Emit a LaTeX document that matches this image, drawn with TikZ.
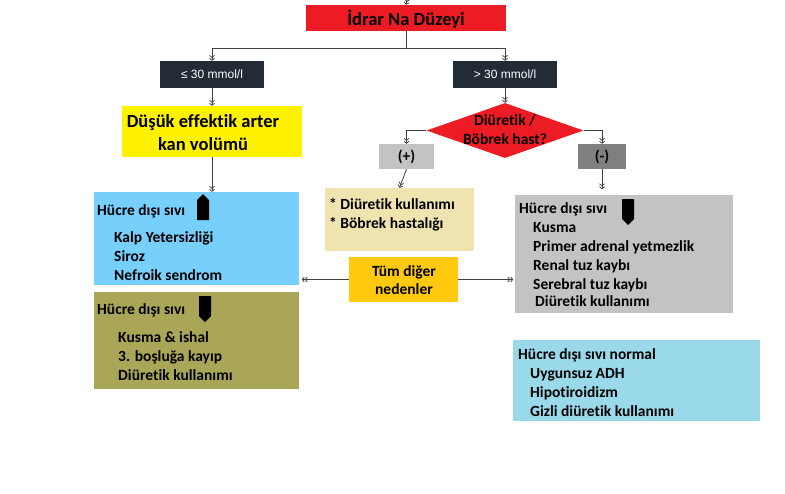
\documentclass[tikz,border=0pt]{standalone}
\usepackage{fontspec}
\setmainfont{Carlito}[Ligatures=NoCommon]
\newfontfamily\arialfont{Liberation Sans}
\usetikzlibrary{shapes.geometric,shapes.arrows,arrows.meta}

\begin{document}
\begin{tikzpicture}[x=1pt,y=-1pt,
    box/.style={inner sep=0pt},
    darkbox/.style={box,fill=slate,minimum width=104pt,minimum height=27pt,text=white,font=\arialfont\fontsize{12}{14}\selectfont},
    conn/.style={draw=linegray,line width=0.8pt,-{Straight Barb[length=2pt,width=5pt]Straight Barb[length=2pt,width=5pt]}},
    head/.style={anchor=base west,inner sep=0pt,font=\bfseries\fontsize{15.5}{18}\selectfont},
    items/.style={anchor=base west,align=left,inner sep=0pt,font=\bfseries\fontsize{15.5}{18.8}\selectfont},
    title/.style={align=center,inner sep=0pt,font=\bfseries\fontsize{18.5}{23}\selectfont},
    blockarrow/.style={single arrow,fill=black,inner sep=0pt,minimum width=12pt,minimum height=26pt,single arrow head extend=0pt}]
    % Define colors
    \definecolor{slate}{RGB}{35,43,54}
    \definecolor{linegray}{RGB}{64,64,64}
    \definecolor{redbox}{RGB}{237,28,36}
    \definecolor{yellowbox}{RGB}{255,242,0}
    \definecolor{bluebox}{RGB}{119,207,251}
    \definecolor{olivebox}{RGB}{169,167,87}
    \definecolor{tanbox}{RGB}{239,228,176}
    \definecolor{lightgraybox}{RGB}{195,195,195}
    \definecolor{darkgraybox}{RGB}{127,127,127}
    \definecolor{orangebox}{RGB}{255,201,14}
    \definecolor{cyanbox}{RGB}{153,217,234}

    \useasboundingbox (0,0) rectangle (785,493);

    % Top of the chart
    \coordinate (start) at (407,0);
    \node[box,fill=redbox,minimum width=200pt,minimum height=26pt] (idrar) at (406,18) {};
    \node[title] (idrartext) at (406,19) {İdrar Na Düzeyi};

    % Cut-off values
    \node[darkbox] (low) at (212,74.5) {≤ 30 mmol/l};
    \node[darkbox] (high) at (505,74.5) {> 30 mmol/l};

    % Left branch
    \node[box,fill=yellowbox,minimum width=180pt,minimum height=51pt] (effective) at (212,131.5) {};
    \node[title] (effectivetext) at (203,133) {Düşük effektik arter\\kan volümü};

    \node[box,fill=bluebox,minimum width=205pt,minimum height=93pt] (high ecf) at (196.5,238.5) {};
    \node[head] (high ecf head) at (97,215) {Hücre dışı sıvı};
    \node[blockarrow,rotate=90] (uparrow) at (203,210) {};
    \node[items] (high ecf list) at (114,280) {Kalp Yetersizliği\\Siroz\\Nefroik sendrom};

    \node[box,fill=olivebox,minimum width=205pt,minimum height=97pt] (low ecf) at (196.5,340.5) {};
    \node[head] (low ecf head) at (97,314) {Hücre dışı sıvı};
    \node[blockarrow,rotate=-90] (downarrow) at (205,306) {};
    \node[items] (low ecf list) at (118,380) {Kusma \& ishal\\3. boşluğa kayıp\\Diüretik kullanımı};

    % Right branch
    \node[diamond,fill=redbox,inner sep=0pt,minimum width=157pt,minimum height=55pt] (question) at (505,130.5) {};
    \node[align=center,inner sep=0pt,font=\bfseries\fontsize{15.5}{19}\selectfont] (questiontext) at (505,130) {Diüretik /\\Böbrek hast?};

    \node[box,fill=lightgraybox,minimum width=55pt,minimum height=25pt,font=\bfseries\fontsize{15.5}{18}\selectfont] (plus) at (406.5,156.5) {(+)};
    \node[box,fill=darkgraybox,minimum width=48pt,minimum height=25pt,font=\bfseries\fontsize{15.5}{18}\selectfont] (minus) at (602,156.5) {(-)};

    \node[box,fill=tanbox,minimum width=149pt,minimum height=63pt] (renal) at (399.5,219.5) {};
    \node[items] (renal list) at (329,228) {* Diüretik kullanımı\\* Böbrek hastalığı};

    \node[box,fill=lightgraybox,minimum width=218pt,minimum height=118pt] (gray ecf) at (624,254) {};
    \node[head] (gray ecf head) at (519,213) {Hücre dışı sıvı};
    \node[blockarrow,rotate=-90] (downarrow2) at (628,209) {};
    \node[items] (gray ecf list) at (533,306) {Kusma\\Primer adrenal yetmezlik\\Renal tuz kaybı\\Serebral tuz kaybı\\[-2pt]\hspace{2pt}Diüretik kullanımı};

    \node[box,fill=orangebox,minimum width=109pt,minimum height=45pt] (other) at (403.5,279.5) {};
    \node[align=center,inner sep=0pt,font=\bfseries\fontsize{15.5}{17.5}\selectfont] (othertext) at (404,280) {Tüm diğer\\nedenler};

    \node[box,fill=cyanbox,minimum width=247pt,minimum height=81pt] (normal ecf) at (636.5,380.5) {};
    \node[head] (normal ecf head) at (518,359) {Hücre dışı sıvı normal};
    \node[items] (normal ecf list) at (530,416) {Uygunsuz ADH\\Hipotiroidizm\\Gizli diüretik kullanımı};

    % Draw the connectors
    \draw[conn] (start) -- (idrar.north);
    \draw[conn] (idrar.south) -- ++(0,17) -| (low.north);
    \draw[conn] (idrar.south) -- ++(0,17) -| (high.north);
    \draw[conn] (low.south) -- (effective.north);
    \draw[conn] (effective.south) -- (effective.south |- high ecf.north);
    \draw[conn] (high.south) -- (question.north);
    \draw[conn] (question.west) -| (plus.north);
    \draw[conn] (question.east) -| (minus.north);
    \draw[conn] (plus.south) -- (renal.north);
    \draw[conn] (minus.south) -- ++(0,20);
    \draw[conn] (other.west) -- ++(-47,0);
    \draw[conn] (other.east) -- ++(55,0);
\end{tikzpicture}
\end{document}
